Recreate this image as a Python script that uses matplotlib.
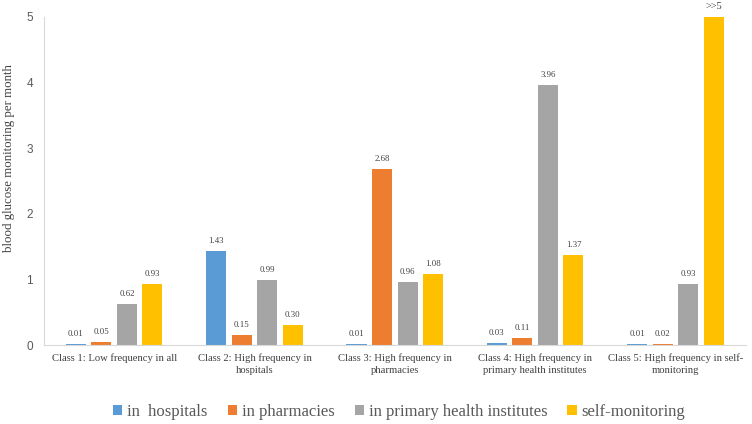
import matplotlib
matplotlib.use("Agg")
import matplotlib.pyplot as plt
import numpy as np

categories = ["Class 1: Low frequency in all",
              "Class 2: High frequency in\nhospitals",
              "Class 3: High frequency in\npharmacies",
              "Class 4: High frequency in\nprimary health institutes",
              "Class 5: High frequency in self-\nmonitoring"]
series_names = ["in  hospitals", "in pharmacies", "in primary health institutes", "self-monitoring"]
hospitals = [0.01, 1.43, 0.01, 0.03, 0.01]
pharmacies = [0.05, 0.15, 2.68, 0.11, 0.02]
primary = [0.62, 0.99, 0.96, 3.96, 0.93]
self_mon = [0.93, 0.30, 1.08, 1.37, 5.0]   # class 5 value is >>5, clipped at axis top
labels = [
    ["0.01", "1.43", "0.01", "0.03", "0.01"],
    ["0.05", "0.15", "2.68", "0.11", "0.02"],
    ["0.62", "0.99", "0.96", "3.96", "0.93"],
    ["0.93", "0.30", "1.08", "1.37", ">>5"],
]
colors = ["#5B9BD5", "#ED7D31", "#A5A5A5", "#FFC000"]
yticks = [0, 1, 2, 3, 4, 5]

fig = plt.figure(figsize=(7.52, 4.24), dpi=100)
ax = fig.add_axes([0.0585, 0.186, 0.933, 0.774])
x = np.arange(len(categories))
width = 0.143
pitch = 0.182
data = [hospitals, pharmacies, primary, self_mon]
for i, (vals, c, name) in enumerate(zip(data, colors, series_names)):
    pos = x + (i - 1.5) * pitch
    ax.bar(pos, vals, width=width, color=c, label=name)
    for j, (p, v) in enumerate(zip(pos, vals)):
        lab = labels[i][j]
        if lab:
            fs = 7.5 if lab == ">>5" else 6.3
            ax.annotate(lab, (p, v), xytext=(0, 4.5), textcoords="offset points",
                        ha="center", va="bottom", fontsize=fs,
                        family="Liberation Serif", color="#404040",
                        annotation_clip=False)

ax.set_xlim(-0.5, len(categories) - 0.5)
ax.set_ylim(0, 5)
ax.set_yticks(yticks)
ax.set_yticklabels([str(t) for t in yticks], family="Liberation Sans", fontsize=8.5, color="#595959")
ax.set_xticks(x)
ax.set_xticklabels(categories, family="Liberation Serif", fontsize=7.7, color="#404040",
                   linespacing=1.35)
ax.tick_params(axis="x", length=0, pad=6)
ax.tick_params(axis="y", length=0, pad=8)
for s in ["top", "right"]:
    ax.spines[s].set_visible(False)
ax.spines["left"].set_color("#D9D9D9")
ax.spines["bottom"].set_color("#D9D9D9")
ax.set_ylabel("blood glucose monitoring per month", family="Liberation Serif", fontsize=9.3, color="#404040")
ax.yaxis.set_label_coords(-0.042, 0.57)

leg = fig.legend(loc="center", bbox_to_anchor=(0.531, 0.028), ncol=4, frameon=False,
                 prop={"family": "Liberation Serif", "size": 12}, handlelength=0.55,
                 handleheight=0.55, handletextpad=0.3, columnspacing=1.2)
for t in leg.get_texts():
    t.set_color("#595959")

fig.savefig("out.png", dpi=100)
